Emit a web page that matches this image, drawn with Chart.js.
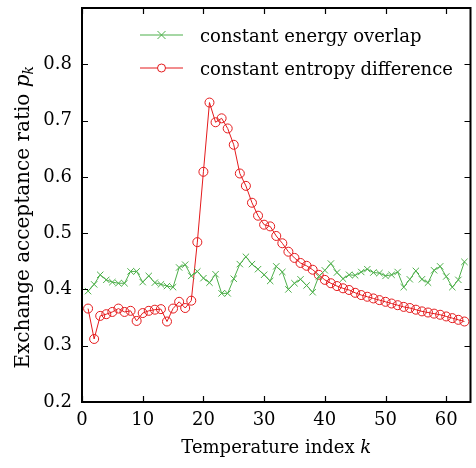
<!DOCTYPE html>
<html>
<head>
<meta charset="utf-8">
<script src="https://cdn.jsdelivr.net/npm/chart.js@4/dist/chart.umd.min.js"></script>
<style>
html,body{margin:0;padding:0;background:#fff;}
#wrap{width:476px;height:468px;position:relative;}
</style>
</head>
<body>
<div id="wrap"><canvas id="c" width="476" height="468"></canvas></div>
<script>
const temperatureIndex = Array.from({length: 63}, (_, i) => i + 1);
const energyOverlap = [0.397, 0.409, 0.426, 0.417, 0.413, 0.411, 0.411, 0.432, 0.432, 0.413,
  0.424, 0.412, 0.409, 0.406, 0.404, 0.439, 0.444, 0.424, 0.432, 0.420,
  0.412, 0.427, 0.393, 0.393, 0.419, 0.445, 0.458, 0.445, 0.436, 0.426,
  0.415, 0.441, 0.431, 0.400, 0.411, 0.418, 0.407, 0.395, 0.423, 0.434,
  0.446, 0.430, 0.419, 0.426, 0.425, 0.431, 0.436, 0.430, 0.429, 0.424,
  0.426, 0.431, 0.404, 0.418, 0.433, 0.418, 0.412, 0.434, 0.441, 0.423,
  0.404, 0.417, 0.449];
const entropyDifference = [0.366, 0.312, 0.353, 0.356, 0.360, 0.366, 0.360, 0.362, 0.344, 0.358,
  0.362, 0.364, 0.365, 0.343, 0.366, 0.378, 0.367, 0.380, 0.484, 0.609,
  0.732, 0.697, 0.704, 0.686, 0.657, 0.606, 0.584, 0.554, 0.531, 0.515,
  0.512, 0.495, 0.482, 0.467, 0.456, 0.447, 0.442, 0.435, 0.426, 0.417,
  0.411, 0.406, 0.402, 0.399, 0.394, 0.390, 0.387, 0.384, 0.381, 0.378,
  0.375, 0.372, 0.369, 0.367, 0.364, 0.361, 0.359, 0.357, 0.355, 0.352,
  0.349, 0.346, 0.343];
const xTicks = [0, 10, 20, 30, 40, 50, 60];
const yTicks = [0.2, 0.3, 0.4, 0.5, 0.6, 0.7, 0.8];
const seriesLabels = ['constant energy overlap', 'constant entropy difference'];

const GREEN = '#4daf4a';
const RED = '#e41a1c';
const SERIF = '"DejaVu Serif", "Liberation Serif", serif';
const FS = 18;
const FSY = 20;

const framePlugin = {
  id: 'frame',
  afterDraw(chart) {
    const {ctx, chartArea: a, scales} = chart;
    const xs = scales.x, ys = scales.y;
    ctx.save();
    ctx.strokeStyle = '#000';
    ctx.lineWidth = 1.2;
    const tl = 6;
    ctx.beginPath();
    xTicks.forEach(v => {
      const px = Math.round(xs.getPixelForValue(v)) + 0.5;
      ctx.moveTo(px, a.bottom); ctx.lineTo(px, a.bottom - tl);
      ctx.moveTo(px, a.top); ctx.lineTo(px, a.top + tl);
    });
    yTicks.forEach(v => {
      const py = Math.round(ys.getPixelForValue(v)) + 0.5;
      ctx.moveTo(a.left, py); ctx.lineTo(a.left + tl, py);
      ctx.moveTo(a.right, py); ctx.lineTo(a.right - tl, py);
    });
    ctx.stroke();
    ctx.lineWidth = 2;
    ctx.strokeRect(a.left, a.top, a.right - a.left, a.bottom - a.top);

    // legend
    const items = [
      {label: seriesLabels[0], color: GREEN, style: 'cross'},
      {label: seriesLabels[1], color: RED, style: 'circle'}
    ];
    ctx.font = FS + 'px ' + SERIF;
    ctx.textBaseline = 'alphabetic';
    items.forEach((it, i) => {
      const y = 35 + i * 33;
      ctx.strokeStyle = it.color;
      ctx.lineWidth = 1;
      ctx.beginPath();
      ctx.moveTo(140, y); ctx.lineTo(183, y);
      ctx.stroke();
      ctx.beginPath();
      if (it.style === 'cross') {
        ctx.moveTo(157.5, y - 4); ctx.lineTo(165.5, y + 4);
        ctx.moveTo(165.5, y - 4); ctx.lineTo(157.5, y + 4);
      } else {
        ctx.fillStyle = '#fff';
        ctx.arc(161.5, y, 4, 0, Math.PI * 2);
        ctx.fill();
      }
      ctx.stroke();
      ctx.fillStyle = '#000';
      ctx.textAlign = 'left';
      ctx.fillText(it.label, 200, y + 7);
    });

    // axis titles
    ctx.fillStyle = '#000';
    ctx.textBaseline = 'alphabetic';
    const f1 = FS + 'px ' + SERIF, f1i = 'italic ' + FS + 'px ' + SERIF;
    ctx.font = f1;
    const t1 = 'Temperature index ';
    const w1 = ctx.measureText(t1).width;
    ctx.font = f1i;
    const w1k = ctx.measureText('k').width;
    const cx = (a.left + a.right) / 2;
    let sx = cx - (w1 + w1k) / 2;
    ctx.font = f1; ctx.fillText(t1, sx, 453);
    ctx.font = f1i; ctx.fillText('k', sx + w1, 453);
    // y title
    const fy = FSY + 'px ' + SERIF, fyi = 'italic ' + FSY + 'px ' + SERIF;
    const fsub = 'italic 14px ' + SERIF;
    const t2 = 'Exchange acceptance ratio ';
    ctx.font = fy;
    const w2 = ctx.measureText(t2).width;
    ctx.font = fyi;
    const wp = ctx.measureText('p').width;
    ctx.font = fsub;
    const wk = ctx.measureText('k').width;
    const L = w2 + wp + wk;
    ctx.save();
    ctx.translate(29, 66 + L);
    ctx.rotate(-Math.PI / 2);
    ctx.font = fy; ctx.fillText(t2, 0, 0);
    ctx.font = fyi; ctx.fillText('p', w2, 0);
    ctx.font = fsub; ctx.fillText('k', w2 + wp, 4);
    ctx.restore();
    ctx.restore();
  }
};

new Chart(document.getElementById('c'), {
  type: 'line',
  data: {
    labels: temperatureIndex,
    datasets: [
      {
        label: seriesLabels[0],
        data: temperatureIndex.map((k, i) => ({x: k, y: energyOverlap[i]})),
        borderColor: GREEN,
        backgroundColor: GREEN,
        borderWidth: 1,
        pointStyle: 'crossRot',
        pointRadius: 4.5,
        pointBorderWidth: 1,
        pointBorderColor: GREEN,
        tension: 0
      },
      {
        label: seriesLabels[1],
        data: temperatureIndex.map((k, i) => ({x: k, y: entropyDifference[i]})),
        borderColor: RED,
        backgroundColor: 'rgba(255,255,255,0)',
        borderWidth: 1,
        pointStyle: 'circle',
        pointRadius: 4.5,
        pointBorderWidth: 1,
        pointBorderColor: RED,
        pointBackgroundColor: 'rgba(255,255,255,0)',
        tension: 0
      }
    ]
  },
  options: {
    responsive: false,
    animation: false,
    layout: {padding: {top: 8, right: 1, left: 0, bottom: 0}},
    plugins: {legend: {display: false}, tooltip: {enabled: false}},
    scales: {
      x: {
        type: 'linear',
        min: 0, max: 64,
        afterBuildTicks(s) { s.ticks = xTicks.map(v => ({value: v})); },
        afterFit(s) { s.height = 66; s.paddingLeft = 0; s.paddingRight = 0; },
        grid: {display: false, drawTicks: false},
        border: {display: false},
        ticks: {
          color: '#000',
          font: {family: SERIF, size: FS},
          padding: 8,
          maxRotation: 0,
          callback: v => String(v)
        }
      },
      y: {
        type: 'linear',
        min: 0.2, max: 0.9,
        afterBuildTicks(s) { s.ticks = yTicks.map(v => ({value: v})); },
        afterFit(s) { s.width = 82; s.paddingTop = 0; s.paddingBottom = 0; },
        grid: {display: false, drawTicks: false},
        border: {display: false},
        ticks: {
          color: '#000',
          font: {family: SERIF, size: FS},
          padding: 10,
          callback: v => v.toFixed(1)
        }
      }
    }
  },
  plugins: [framePlugin]
});
</script>
</body>
</html>
